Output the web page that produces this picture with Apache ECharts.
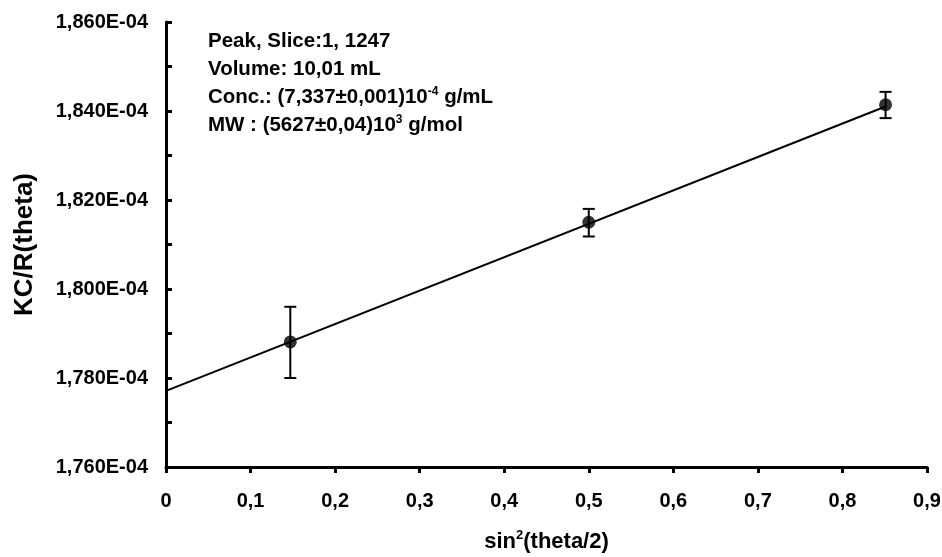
<!DOCTYPE html>
<html lang="en">
<head>
    <meta charset="UTF-8">
    <title>KC/R(theta)</title>
    <script src="https://cdn.jsdelivr.net/npm/echarts@6/dist/echarts.min.js"></script>
</head>
<body style="margin:0">
<div id="main" style="width: 942px;height:557px;"></div>
<script type="text/javascript">
    // y values in units of 1E-04
    var sinX = [0.147, 0.5, 0.851];
    var kcr = [1.7881, 1.8150, 1.8414];
    var errLow = [1.7800, 1.8118, 1.8384];
    var errHigh = [1.7960, 1.8180, 1.8443];
    var fitX = [0, 0.851];
    var fitY = [1.7771, 1.8410];
    var notes = ['Peak, Slice:1, 1247', 'Volume: 10,01 mL',
        'Conc.: (7,337±0,001)10{sup|-4} g/mL', 'MW : (5627±0,04)10{sup|3} g/mol'];

    var myChart = echarts.init(document.getElementById('main'));
    var font = 'Liberation Sans, Arial, sans-serif';

    var points = sinX.map(function (x, i) { return [x, kcr[i]]; });
    var bars = sinX.map(function (x, i) { return [x, errLow[i], errHigh[i]]; });
    var fit = fitX.map(function (x, i) { return [x, fitY[i]]; });

    var option = {
        animation: false,
        grid: { left: 166, right: 15, top: 22, bottom: 90, outerBoundsMode: 'none' },
        xAxis: {
            type: 'value', min: 0, max: 0.9, interval: 0.1,
            name: '{b|sin}{s|2}{b|(theta/2)}', nameLocation: 'middle', nameGap: 62,
            nameTextStyle: {
                rich: {
                    b: { fontFamily: font, fontWeight: 'bold', fontSize: 22, color: '#000' },
                    s: { fontFamily: font, fontWeight: 'bold', fontSize: 13, color: '#000', verticalAlign: 'top', padding: [0, 0, 12, 0] }
                }
            },
            axisLine: { lineStyle: { color: '#000', width: 3 } },
            axisTick: { inside: false, length: 6, lineStyle: { color: '#000', width: 3 } },
            axisLabel: {
                margin: 24, color: '#000', fontFamily: font, fontWeight: 'bold', fontSize: 20,
                formatter: function (v) { return v === 0 ? '0' : v.toFixed(1).replace('.', ','); }
            },
            splitLine: { show: false }
        },
        yAxis: {
            type: 'value', min: 1.76, max: 1.86, interval: 0.02,
            name: 'KC/R(theta)', nameLocation: 'middle', nameGap: 128,
            nameTextStyle: { fontFamily: font, fontWeight: 'bold', fontSize: 26, color: '#000' },
            axisLine: { show: true, lineStyle: { color: '#000', width: 3 } },
            axisTick: { inside: true, length: 6, lineStyle: { color: '#000', width: 3 } },
            minorTick: { show: true, splitNumber: 2, length: 6, lineStyle: { color: '#000', width: 3 } },
            axisLabel: {
                margin: 18, color: '#000', fontFamily: font, fontWeight: 'bold', fontSize: 20,
                formatter: function (v) { return v.toFixed(3).replace('.', ',') + 'E-04'; }
            },
            splitLine: { show: false }
        },
        graphic: notes.map(function (t, i) {
            return {
                type: 'text', x: 208, y: 41 + i * 28,
                style: {
                    text: t, fill: '#000', verticalAlign: 'middle',
                    font: 'bold 20.5px ' + font,
                    rich: { sup: { fontFamily: font, fontWeight: 'bold', fontSize: 12, verticalAlign: 'top', padding: [0, 0, 10, 0] } }
                }
            };
        }),
        series: [
            {
                type: 'line', data: fit, showSymbol: false, silent: true,
                lineStyle: { color: '#000', width: 2 }
            },
            {
                type: 'custom', data: bars,
                renderItem: function (params, api) {
                    var lo = api.coord([api.value(0), api.value(1)]);
                    var hi = api.coord([api.value(0), api.value(2)]);
                    var w = 6;
                    var st = { stroke: '#000', lineWidth: 2 };
                    return {
                        type: 'group', children: [
                            { type: 'line', shape: { x1: lo[0], y1: lo[1], x2: hi[0], y2: hi[1] }, style: st },
                            { type: 'line', shape: { x1: lo[0] - w, y1: lo[1], x2: lo[0] + w, y2: lo[1] }, style: st },
                            { type: 'line', shape: { x1: hi[0] - w, y1: hi[1], x2: hi[0] + w, y2: hi[1] }, style: st }
                        ]
                    };
                }
            },
            {
                type: 'scatter', data: points, symbol: 'circle', symbolSize: 13,
                itemStyle: { color: '#000' }
            }
        ]
    };
    myChart.setOption(option);
</script>
</body>
</html>
